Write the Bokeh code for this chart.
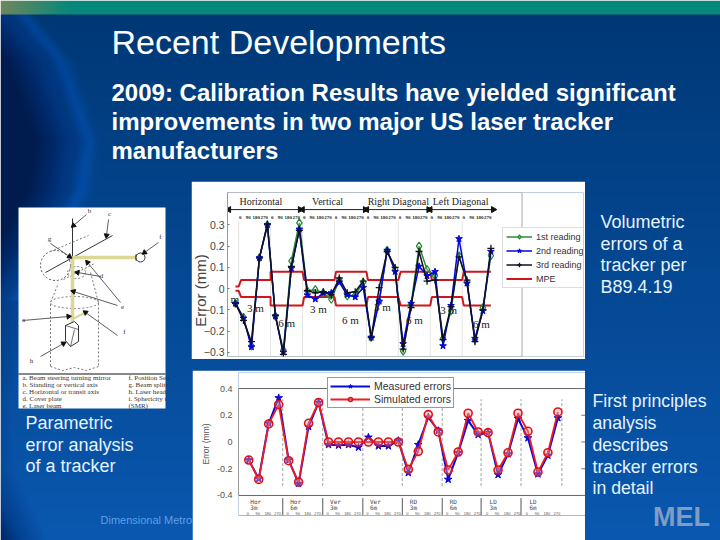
import numpy as np
from bokeh.plotting import figure
from bokeh.layouts import column
from bokeh.models import Legend, LegendItem, FixedTicker
from bokeh.core.properties import value
from bokeh.embed import file_html
from bokeh.resources import INLINE

# ---------- data ----------
reading_1 = [-0.07,-0.135,-0.27,0.145,0.30,-0.13,-0.29,0.13,0.31,-0.01,-0.005,-0.02,-0.05,0.04,-0.035,-0.03,0.03,-0.23,-0.06,0.18,0.09,-0.295,-0.075,0.20,0.09,0.06,-0.235,-0.105,0.155,0.03,-0.24,-0.09,0.155]
reading_2 = [-0.07,-0.14,-0.275,0.145,0.30,-0.13,-0.30,0.095,0.28,-0.03,-0.05,-0.02,-0.02,0.03,-0.03,-0.04,0.005,-0.23,-0.06,0.18,0.08,-0.26,-0.07,0.105,0.06,0.08,-0.27,-0.08,0.235,0.025,-0.235,-0.105,0.175]
reading_3 = [-0.07,-0.15,-0.25,0.145,0.305,-0.125,-0.31,0.105,0.275,-0.01,-0.02,-0.015,-0.03,0.05,-0.02,-0.015,0.035,-0.23,0.005,0.175,0.10,-0.285,-0.09,0.175,0.035,0.04,-0.24,-0.085,0.15,0.04,-0.25,-0.10,0.19]
mpe_x = [0,0.4,0.7,4.4,4.4,8.4,8.6,12.4,12.6,16.4,16.6,20.4,20.7,24.4,24.6,28.4,28.6,32]
mpe_up = [0.01,0.01,0.04,0.04,0.08,0.08,0.04,0.04,0.08,0.08,0.04,0.04,0.08,0.08,0.04,0.04,0.08,0.08]
mpe_lo = [-0.01,-0.01,-0.04,-0.04,-0.08,-0.08,-0.04,-0.04,-0.08,-0.08,-0.04,-0.04,-0.08,-0.08,-0.04,-0.04,-0.08,-0.08]
angles_1 = ["0","90","180","270"] * 8
sections_1 = ["Horizontal","Vertical","Right Diagonal","Left Diagonal"]
ranges_1 = ["1 m","3 m","6 m","3 m","6 m","3 m","6 m","3 m","6 m"]
yticks_1 = [-0.3,-0.2,-0.1,0,0.1,0.2,0.3]
measured = [-0.135,-0.275,0.14,0.33,-0.135,-0.31,0.115,0.295,-0.02,-0.025,-0.02,-0.04,0.035,-0.03,-0.03,0.01,-0.23,-0.02,0.185,0.085,-0.28,-0.08,0.16,0.055,0.07,-0.245,-0.09,0.175,0.03,-0.24,-0.10,0.18]
simulated = [-0.135,-0.28,0.135,0.28,-0.14,-0.30,0.14,0.295,0,0,0,0,0,0,0,0,-0.205,-0.07,0.205,0.075,-0.21,-0.075,0.215,0.075,0.07,-0.21,-0.08,0.215,0.08,-0.225,-0.08,0.225]
yticks_2 = [-0.4,-0.2,0,0.2,0.4]
groups_2 = ["Hor","Hor","Ver","Ver","RD","RD","LD","LD"]
dist_2 = ["3m","6m","3m","6m","3m","6m","3m","6m"]
angles_2 = ["0","90","180","270"] * 8

SANS = value("Liberation Sans")
SERIF = value("Liberation Serif")

# ---------- slide backdrop in window pixels ----------
W, H = 720, 540
main = figure(width=W, height=H, x_range=(0, 720), y_range=(540, 0), output_backend="svg",
              toolbar_location=None, min_border=0, outline_line_color=None, x_axis_location=None, y_axis_location=None)
main.grid.visible = False
yy, xx = np.mgrid[0:540, 0:720].astype(float)
t = (yy - 14) / 526
r = 0 + 10 * t; g = 56 + 32 * t; b = 118 + 58 * t
edge = np.interp(yy, [14,60,140,190,240,300,400,470,540], [32,70,98,90,62,26,10,14,47])
d = np.clip((edge - xx) / 45, 0, 1)
inner = np.clip((edge - xx - 30) / 35, 0, 1)
r = r * (1 - d); g = g * (1 - d) + 50 * d; b = b * (1 - d) + 125 * d
r = r * (1 - inner); g = g * (1 - inner) + 28 * inner; b = b * (1 - inner) + 78 * inner
glow = np.exp(-((edge - xx - 10) / 8) ** 2) * (yy < 300)
g = g + 12 * glow; b = b + 28 * glow
band = yy < 14
f = np.clip(xx / 70, 0, 1)
r[band] = (110 * (1 - f) + 6 * f)[band]; g[band] = (135 * (1 - f) + 136 * f)[band]; b[band] = (92 * (1 - f) + 122 * f)[band]
img = np.dstack([r, g, b, np.full_like(r, 255)]).astype(np.uint8)
rgba = img[:, :, 0].astype(np.uint32) | (img[:, :, 1].astype(np.uint32) << 8) | (img[:, :, 2].astype(np.uint32) << 16) | (255 << 24)
main.image_rgba(image=[rgba], x=0, y=0, dw=720, dh=540)

def txt(fig, x, y, s, size, color="#ffffff", font=SANS, style="normal", align="left", angle=0):
    fig.text(x=[x], y=[y], text=[s], text_font=font, text_font_size=size, text_color=color, text_font_style=style,
             text_align=align, text_baseline="middle", angle=angle)

txt(main, 111, 41, "Recent Developments", "34px")
for y, s in zip([92, 121, 150], ["2009: Calibration Results have yielded significant",
                                 "improvements in two major US laser tracker", "manufacturers"]):
    txt(main, 111, y, s, "24px", style="bold")
LIGHT = "#e6f3ff"
for y, s in zip([221, 243, 264, 286], ["Volumetric", "errors of a", "tracker per", "B89.4.19"]):
    txt(main, 600, y, s, "18px", LIGHT)
for y, s in zip([400, 422, 444, 466, 487], ["First principles", "analysis", "describes", "tracker errors", "in detail"]):
    txt(main, 592, y, s, "17.7px", LIGHT)
for y, s in zip([422, 444, 465], ["Parametric", "error analysis", "of a tracker"]):
    txt(main, 25, y, s, "18px", LIGHT)
txt(main, 100, 519, "Dimensional Metro", "11px", "#5f9fe6")
txt(main, 681, 516, "MEL", "27px", "#7f9cc4", style="bold", align="center")

# ---------- tracker sketch panel ----------
main.quad(left=18, right=165, top=207, bottom=408, fill_color="#ffffff", line_color=None)
K = "#333333"
main.multi_line(xs=[[72,72],[45,112]], ys=[[218,256],[272,235]], line_color=K, line_width=1)
main.ellipse(x=[55], y=[265], width=30, height=30, fill_color=None, line_color="#555555", line_dash="2 2")
main.multi_line(xs=[[50,88],[63,94],[57,50,50],[90,98,98],[50,62,74,86,98]], ys=[[251,235],[279,263],[285,302,366],[272,302,366],[366,370,367,370,366]],
                line_color="#777777", line_width=1, line_dash="2 2")
main.ellipse(x=[74], y=[302], width=48, height=12, fill_color=None, line_color="#777777", line_dash="2 2")
main.ellipse(x=[76], y=[272], width=18, height=12, fill_color=None, line_color="#777777", line_dash="2 2")
main.line(x=[72,135], y=[257,257], line_color="#dcd894", line_width=3.5)
main.line(x=[72,72], y=[257,326], line_color="#dcd894", line_width=3.5)
main.line(x=[73,85], y=[318,312], line_color="#dcd894", line_width=2)
main.quad(left=135, right=137.5, top=254, bottom=260, fill_color="#111111", line_color=None)
main.ellipse(x=[140], y=[257], width=9, height=9, fill_color="#ffffff", line_color=K)
main.patch(x=[65,74,78,78,70,65], y=[325,321,325,341,346,340], fill_color="#ffffff", line_color=K)
main.multi_line(xs=[[65,78],[74,70]], ys=[[325,329],[329,346]], line_color=K, line_width=0.7)
arrows = [(86,214,73,225),(108,219,106,235),(50,243,69,256),(158,242,144,252),(100,276,77,272),(120,302,87,262),(117,305,73,291),(22,320,68,316),(117,335,85,312),(40,356,63,343)]
main.segment(x0=[a[0] for a in arrows], y0=[a[1] for a in arrows], x1=[a[2] for a in arrows], y1=[a[3] for a in arrows], line_color=K, line_width=0.8)
main.scatter(x=[a[2] for a in arrows], y=[a[3] for a in arrows], size=5, marker="triangle", color="#111111",
             angle=[float(np.arctan2(-(a[2]-a[0]), -(a[3]-a[1]))) for a in arrows])
for x, y, s in [(89,210,"b"),(109,213,"c"),(49,238,"g"),(160,236,"f"),(101,275,"d"),(122,306,"e"),(23,319,"a"),(124,331,"f"),(31,360,"h")]:
    txt(main, x, y, s, "7px", "#333333", SERIF, align="center")
main.line(x=[18,165], y=[373.5,373.5], line_color="#111111", line_width=1.2)
for y, s in zip([377.5,384,391,398,405], ["a. Beam steering turning mirror","b. Standing or vertical axis","c. Horizontal or transit axis","d. Cover plate","e. Laser beam"]):
    txt(main, 22, y, s, "7px", "#333333", SERIF)
for y, s in zip([377.5,384,391,398,405], ["f. Position Sen","g. Beam splitt","h. Laser head","i. Sphericity t","(SMR)"]):
    txt(main, 128, y, s, "7px", "#333333", SERIF)

# ---------- chart 1 ----------
idx1 = list(range(len(reading_1)))
c1 = figure(width=394, height=178, output_backend="svg", toolbar_location=None,
            x_range=(-1, 43.6), y_range=(-0.32, 0.453), x_axis_location=None,
            min_border_left=36, min_border_right=2, min_border_top=11, min_border_bottom=3,
            background_fill_color="#ffffff", border_fill_color="#ffffff", outline_line_color=None)
c1.grid.visible = False
c1.yaxis.ticker = FixedTicker(ticks=yticks_1)
c1.yaxis.major_label_overrides = {0: "0"}
c1.yaxis.major_label_text_font = "Liberation Sans"
c1.yaxis.major_label_text_font_size = "10.5px"
c1.yaxis.major_label_text_color = "#444444"
c1.yaxis.major_label_standoff = 3
c1.yaxis.major_tick_in = 2; c1.yaxis.major_tick_out = 0; c1.yaxis.minor_tick_line_color = None
c1.yaxis.axis_line_color = "#999999"; c1.yaxis.major_tick_line_color = "#777777"
dividers = [0.4, 4.4, 8.4, 12.4, 16.4, 20.4, 24.4, 28.4]
c1.segment(x0=dividers, x1=dividers, y0=[-0.32]*8, y1=[0.32]*8, line_color="#e4e4e4", line_width=1)
c1.multi_line(xs=[[-1,35.9],[-1,35.9],[35.9,35.9]], ys=[[0.453,0.453],[-0.32,-0.32],[-0.32,0.453]], line_color="#aaaaaa", line_width=1)
mu = c1.line(mpe_x, mpe_up, line_color="#d2141c", line_width=2)
ml = c1.line(mpe_x, mpe_lo, line_color="#d2141c", line_width=2)
l1 = c1.line(idx1, reading_1, line_color="#2e8b3a", line_width=1.5)
m1 = c1.scatter(idx1, reading_1, marker="diamond", size=8, fill_color="#ffffff", fill_alpha=0.2, line_color="#1f8a2a", line_width=1.2)
l2 = c1.line(idx1, reading_2, line_color="#0505e0", line_width=1.5)
m2 = c1.scatter(idx1, reading_2, marker="star", size=7, fill_color="#0505e0", line_color="#0505e0")
l3 = c1.line(idx1, reading_3, line_color="#111122", line_width=1.5)
m3 = c1.scatter(idx1, reading_3, marker="cross", size=7, line_color="#111122", line_width=1.3)
for xv, s in zip([3.17, 11.54, 20.4, 28.2], sections_1):
    txt(c1, xv, 0.41, s, "10px", "#222222", SERIF, align="center")
arr = [(-0.83,8.1),(8.4,16.25),(16.45,24.2),(24.4,32.3)]
c1.segment(x0=[a[0] for a in arr], x1=[a[1] for a in arr], y0=[0.3725]*4, y1=[0.3725]*4, line_color="#222222", line_width=1)
c1.scatter(x=[a[0] for a in arr], y=[0.3725]*4, marker="triangle", size=6, angle=np.pi/2, color="#111111")
c1.scatter(x=[a[1] for a in arr], y=[0.3725]*4, marker="triangle", size=6, angle=-np.pi/2, color="#111111")
c1.text(x=[0.6 + i for i in range(32)], y=[0.335]*32, text=angles_1, text_font=SERIF, text_font_size="5px",
        text_font_style="bold", text_color="#222222", text_align="center", text_baseline="middle")
for xv, yv, s in zip([-0.6,2.5,6.4,10.4,14.4,18.4,22.4,26.7,30.8], [-0.05,-0.09,-0.16,-0.095,-0.15,-0.085,-0.15,-0.10,-0.165], ranges_1):
    txt(c1, xv, yv, s, "11px", "#222222", SERIF, align="center")
leg1 = Legend(items=[LegendItem(label="1st reading", renderers=[l1, m1]), LegendItem(label="2nd reading", renderers=[l2, m2]),
                     LegendItem(label="3rd reading", renderers=[l3, m3]), LegendItem(label="MPE", renderers=[mu])],
              location=(275, 68), orientation="vertical", label_text_font="Liberation Sans", label_text_font_size="9px",
              label_text_color="#333333", glyph_width=26, glyph_height=11, label_height=11, label_standoff=4,
              padding=3, margin=0, spacing=3, border_line_color="#bbbbbb", background_fill_alpha=1)
c1.add_layout(leg1, "center")

# rotated y-axis title of chart 1, in its own small transparent figure
lab1 = figure(width=18, height=80, output_backend="svg", toolbar_location=None, x_range=(0, 1), y_range=(0, 1),
              min_border=0, outline_line_color=None, x_axis_location=None, y_axis_location=None,
              background_fill_alpha=0, border_fill_alpha=0)
lab1.grid.visible = False
txt(lab1, 0.5, 0.5, "Error (mm)", "15px", "#444444", align="center", angle=np.pi/2)

# ---------- chart 2 ----------
idx2 = list(range(len(measured)))
c2 = figure(width=393, height=170, output_backend="svg", toolbar_location=None,
            x_range=(-1.03, 33.77), y_range=(-0.55, 0.52), x_axis_location=None,
            min_border_left=46, min_border_right=0, min_border_top=2, min_border_bottom=25,
            background_fill_color="#ffffff", border_fill_color="#ffffff", outline_line_color=None)
c2.grid.visible = False
c2.yaxis.ticker = FixedTicker(ticks=yticks_2)
c2.yaxis.bounds = (-0.4, 0.4)
c2.yaxis.major_label_overrides = {-0.4: "-0.4", -0.2: "-0.2", 0: "0", 0.2: "0.2", 0.4: "0.4"}
c2.yaxis.major_label_text_font = "Liberation Sans"; c2.yaxis.major_label_text_font_size = "9px"
c2.yaxis.major_label_text_color = "#555555"; c2.yaxis.major_label_standoff = 6
c2.yaxis.major_tick_in = 0; c2.yaxis.major_tick_out = 0; c2.yaxis.minor_tick_line_color = None
c2.yaxis.axis_line_color = "#999999"
c2.yaxis.axis_label = "Error (mm)"; c2.yaxis.axis_label_text_font = "Liberation Sans"
c2.yaxis.axis_label_text_font_style = "normal"; c2.yaxis.axis_label_text_font_size = "8.5px"
c2.yaxis.axis_label_text_color = "#555555"; c2.yaxis.axis_label_standoff = 3
c2.segment(x0=[-1.03]*2, x1=[33.77]*2, y0=[0.4,-0.4], y1=[0.4,-0.4], line_color="#666666", line_width=1)
c2.segment(x0=[33.35]*5, x1=[33.77]*5, y0=yticks_2, y1=yticks_2, line_color="#777777", line_width=1)
div2 = [3.41, 7.42, 11.44, 15.4, 19.4, 23.3, 27.3, 31.4]
c2.segment(x0=div2, x1=div2, y0=[-0.33]*8, y1=[0.32]*8, line_color="#888888", line_width=0.8, line_dash="3 2")
c2.segment(x0=[-1.03], x1=[33.77], y0=[-0.55], y1=[-0.55], line_color="#999999", line_width=1)
c2.segment(x0=div2[:7], x1=div2[:7], y0=[-0.42]*7, y1=[-0.55]*7, line_color="#555555", line_width=1)
lm = c2.line(idx2, measured, line_color="#0a0ad8", line_width=2)
sm = c2.scatter(idx2, measured, marker="star", size=8, color="#0a0ad8")
ls = c2.line(idx2, simulated, line_color="#ee1c24", line_width=1.8)
ss = c2.scatter(idx2, simulated, marker="circle", size=8, fill_color="#f5a0a0", fill_alpha=0.4, line_color="#e01018", line_width=1.6)
for i in range(8):
    xv = 4 * i + 0.15
    txt(c2, xv, -0.445, groups_2[i], "6px", "#444444", value("DejaVu Sans Mono"))
    txt(c2, xv, -0.49, dist_2[i], "6px", "#444444", value("DejaVu Sans Mono"))
c2.text(x=[i - 0.1 for i in range(32)], y=[-0.535]*32, text=angles_2, text_font=SANS, text_font_size="4px",
        text_color="#555555", text_align="center", text_baseline="middle")
leg2 = Legend(items=[LegendItem(label="Measured errors", renderers=[lm, sm]), LegendItem(label="Simulated errors", renderers=[ls, ss])],
              location=(89, 107), orientation="vertical", label_text_font="Liberation Sans", label_text_font_size="10.5px",
              label_text_color="#333333", glyph_width=40, glyph_height=10, label_height=10, label_standoff=4,
              padding=2, margin=0, spacing=1, border_line_color="#333333", background_fill_alpha=1)
c2.add_layout(leg2, "center")

wrap1 = column(c1, width=394, height=178, styles={"position": "absolute", "left": "191px", "top": "181px"})
wrap2 = column(c2, width=393, height=170, styles={"position": "absolute", "left": "192px", "top": "370px"})
wrap3 = column(lab1, width=18, height=80, styles={"position": "absolute", "left": "191px", "top": "250px"})
root = column(column(main), wrap1, wrap2, wrap3, width=W, height=H)
open("out.html", "w").write(file_html(root, INLINE))
